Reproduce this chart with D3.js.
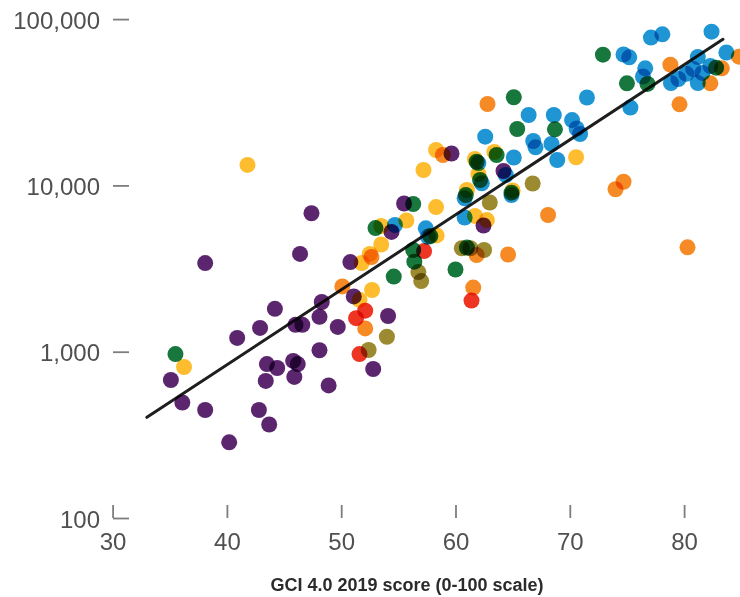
<!DOCTYPE html>
<html>
<head>
<meta charset="utf-8">
<script src="https://cdn.jsdelivr.net/npm/d3@7"></script>
<style>
  html, body { margin: 0; padding: 0; background: #fff; }
  svg { display: block; background: #fff; }
  .dot { mix-blend-mode: multiply; }
</style>
</head>
<body>
<svg id="chart" width="740" height="597"></svg>
<script>
// ---------- data: [GCI 4.0 2019 score, GDP per capita] ----------
const subSaharanAfrica = [
  [47.4,6800],[46.4,3870],[38.1,3410],[50.8,3460],[48.3,1990],[44.2,1810],[48.1,1620],
  [46.0,1450],[46.6,1450],[49.7,1410],[40.9,1210],[42.9,1390],[48.1,1020],[43.5,843],
  [44.4,798],[45.8,880],[46.2,843],[35.1,676],[43.4,667],[45.9,705],[48.9,627],[36.1,495],
  [38.1,446],[42.8,446],[43.7,365],[40.2,285],[51.1,2150],[54.1,1640],[52.8,787],
  [54.4,5250],[55.5,7780],[59.65,15560],[64.2,12210],[62.45,5740]
];
const latinAmerica = [
  [41.8,13270],[36.25,809],[58.3,16330],[61.7,14410],[63.4,15880],[57.2,12380],[62.0,11710],
  [65.0,9320],[61.0,9380],[58.3,7410],[61.7,6550],[62.75,6190],[53.5,5700],[55.7,6150],
  [58.35,5000],[53.5,4410],[52.5,3870],[52.7,2350],[51.6,2050],[70.55,14760],[51.8,3415]
];
const middleEastNorthAfrica = [
  [35.5,968],[53.0,5540],[56.3,7730],[56.3,4090],[56.4,3480],[54.6,2830],[60.0,3120],
  [61.0,4230],[61.85,13880],[63.6,15230],[62.15,10780],[64.9,9040],[60.9,8750],[57.8,4960],
  [65.4,21830],[65.1,33880],[68.7,21730],[72.9,61100],[75.0,41100],[76.8,40740],[82.8,51040]
];
const europeNorthAmerica = [
  [62.6,19630],[66.4,26500],[68.6,26500],[65.1,14720],[66.8,18490],[67.0,16940],[68.4,17750],
  [68.9,14220],[70.2,24720],[70.6,21980],[70.9,20370],[71.5,33780],[75.3,29380],[74.7,61250],
  [75.2,58880],[77.1,77430],[78.1,81030],[82.4,84000],[83.7,62950],[76.6,50600],[76.4,45160],
  [81.2,59150],[82.3,52240],[81.6,47440],[80.8,50120],[80.2,46910],[79.5,43650],[78.85,41290],
  [81.2,41290],[60.8,8360],[64.9,8750],[62.3,10300],[62.0,13630],[64.4,11550],[60.8,6410],
  [57.4,5520],[57.6,4910],[54.7,5780]
];
const eastAsiaPacific = [
  [50.1,2470],[52.65,3710],[52.1,1380],[58.9,15230],[61.85,3815],[64.6,3840],[61.55,2430],
  [62.8,30870],[68.1,6640],[74.7,10520],[74.0,9480],[80.3,4245],[78.8,53190],[79.6,30740],
  [83.3,50600],[82.3,41100],[84.8,59430]
];
const southAsia = [
  [57.25,4030],[52.1,1764],[51.3,1590],[51.6,968],[61.4,2030]
];
const eurasia = [
  [56.75,3010],[57.0,2660],[54.0,1230],[52.4,1024],[60.55,4190],[61.3,4190],[62.5,4090],
  [63.0,7890],[66.75,10270]
];
const regionNames = ["Sub-Saharan Africa","Latin America and the Caribbean","Middle East and North Africa",
  "Europe and North America","East Asia and the Pacific","South Asia","Eurasia"];
const regionColors = ["#5c266f","#fdbd2e","#17773c","#1f96d3","#f68b25","#ee3524","#9b8a2f"];
const trendScores = [33.0, 83.4];
const trendGdp = [403, 75600];
const xTicks = [30, 40, 50, 60, 70, 80];
const yTicks = [100, 1000, 10000, 100000];
const xTitle = "GCI 4.0 2019 score (0-100 scale)";

// ---------- drawing ----------
const svg = d3.select("#chart");
const x = d3.scaleLinear().domain([30, 90]).range([112.6, 798.4]);
const y = d3.scaleLog().domain([100, 100000]).range([518, 19.1]);

const seriesList = [subSaharanAfrica, latinAmerica, middleEastNorthAfrica,
  europeNorthAmerica, eastAsiaPacific, southAsia, eurasia];

const font = "'Liberation Sans', Arial, Helvetica, sans-serif";

// y axis
const yAxis = svg.append("g").attr("transform", "translate(113,0)")
  .call(d3.axisLeft(y).tickValues(yTicks).tickFormat(d3.format(","))
    .tickSizeInner(-16).tickSizeOuter(0).tickPadding(13));
yAxis.select(".domain").remove();
yAxis.selectAll(".tick line").attr("stroke", "#7d7d7d").attr("stroke-width", 1.8);
yAxis.selectAll(".tick text").attr("dy", "0.38em").attr("fill", "#505050")
  .style("font-family", font).style("font-size", "24px");

// x axis
const xAxis = svg.append("g").attr("transform", "translate(0,518)")
  .call(d3.axisBottom(x).tickValues(xTicks).tickSizeInner(-13).tickSizeOuter(0).tickPadding(15));
xAxis.select(".domain").remove();
xAxis.selectAll(".tick line").attr("stroke", "#7d7d7d").attr("stroke-width", 1.8);
xAxis.selectAll(".tick text").attr("fill", "#505050")
  .style("font-family", font).style("font-size", "24px");

// axis title
svg.append("text").attr("x", 407).attr("y", 591).attr("text-anchor", "middle")
  .attr("fill", "#2b2b2b").style("font-family", font).style("font-size", "18px")
  .style("font-weight", "bold").text(xTitle);

// dots
const dotsG = svg.append("g");
seriesList.forEach((series, i) => {
  dotsG.append("g").attr("class", "region").attr("data-name", regionNames[i])
    .selectAll("circle").data(series).join("circle")
    .attr("class", "dot")
    .attr("cx", d => x(d[0])).attr("cy", d => y(d[1])).attr("r", 8)
    .attr("fill", regionColors[i]);
});

// trend line
const trend = trendScores.map((s, i) => [s, trendGdp[i]]);
svg.append("path").datum(trend)
  .attr("d", d3.line().x(d => x(d[0])).y(d => y(d[1])))
  .attr("stroke", "#1e1e1e").attr("stroke-width", 3).attr("fill", "none")
  .attr("stroke-linecap", "round").attr("class", "dot");
</script>
</body>
</html>
